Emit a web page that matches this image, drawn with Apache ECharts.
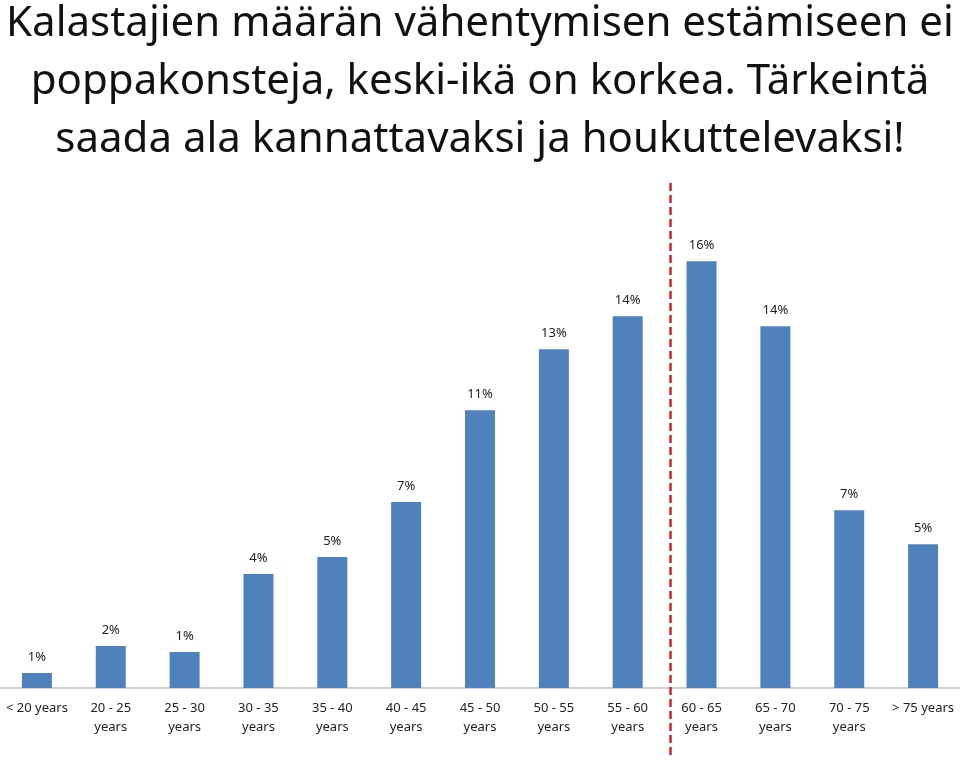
<!DOCTYPE html>
<html>
<head>
<meta charset="utf-8">
<script src="https://cdn.jsdelivr.net/npm/echarts@6/dist/echarts.min.js"></script>
<style>html,body{margin:0;padding:0;background:#fff}#c{width:960px;height:760px}</style>
</head>
<body>
<div id="c"></div>
<script>
const titleLines = [
  "Kalastajien määrän vähentymisen estämiseen ei",
  "poppakonsteja, keski-ikä on korkea. Tärkeintä",
  "saada ala kannattavaksi ja houkuttelevaksi!"
];
const categories = ["< 20 years", "20 - 25\nyears", "25 - 30\nyears", "30 - 35\nyears", "35 - 40\nyears",
  "40 - 45\nyears", "45 - 50\nyears", "50 - 55\nyears", "55 - 60\nyears", "60 - 65\nyears",
  "65 - 70\nyears", "70 - 75\nyears", "> 75 years"];
const shares = [0.57, 1.59, 1.36, 4.32, 4.96, 7.05, 10.53, 12.84, 14.09, 16.17, 13.71, 6.74, 5.45];
const dividerPosition = 8.58; // between "55 - 60" and "60 - 65"

const chart = echarts.init(document.getElementById('c'), null, {renderer: 'canvas'});
const font = '"Noto Sans", "Open Sans", sans-serif';
chart.setOption({
  animation: false,
  backgroundColor: '#ffffff',
  title: {
    text: titleLines.join('\n'),
    left: 'center',
    top: -10,
    textStyle: {fontFamily: font, fontSize: 42, fontWeight: 'normal', color: '#111', lineHeight: 58}
  },
  grid: [
    {left: 0, right: 0, top: 213, bottom: 72},
    {left: 0, right: 0, top: 182, bottom: 5}
  ],
  xAxis: [
    {
      type: 'category', gridIndex: 0, data: categories,
      axisTick: {show: false},
      axisLine: {lineStyle: {color: '#BFBFBF', width: 1.5}},
      axisLabel: {interval: 0, fontFamily: font, fontSize: 13, color: '#222', lineHeight: 19, margin: 11}
    },
    {type: 'value', gridIndex: 1, min: -0.5, max: 12.5, show: false}
  ],
  yAxis: [
    {type: 'value', gridIndex: 0, min: 0, max: 18, show: false, splitLine: {show: false}},
    {type: 'value', gridIndex: 1, min: 0, max: 1, show: false, splitLine: {show: false}}
  ],
  series: [
    {
      type: 'bar', xAxisIndex: 0, yAxisIndex: 0, data: shares, barWidth: 30,
      itemStyle: {color: '#4F81BD'},
      label: {
        show: true, position: 'top', distance: 9,
        fontFamily: font, fontSize: 13, color: '#222',
        formatter: p => Math.round(p.value) + '%'
      }
    },
    {
      type: 'line', xAxisIndex: 1, yAxisIndex: 1, silent: true, symbol: 'none',
      data: [[dividerPosition, 0], [dividerPosition, 1]],
      lineStyle: {color: '#D2202E', width: 2.5, type: [8, 4]}
    }
  ]
});
</script>
</body>
</html>
